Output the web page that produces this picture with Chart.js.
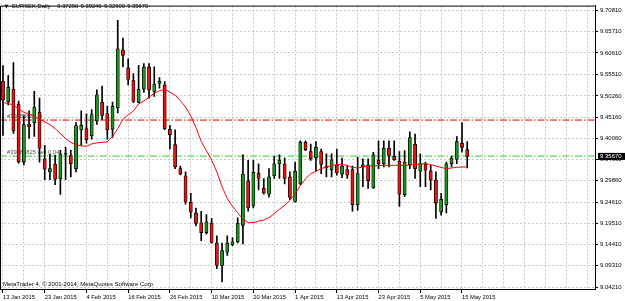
<!DOCTYPE html>
<html>
<head>
<meta charset="utf-8">
<script src="https://cdn.jsdelivr.net/npm/chart.js@4.4.0/dist/chart.umd.min.js"></script>
<style>
  html, body { margin: 0; padding: 0; background: #fff; }
  canvas { display: block; }
</style>
</head>
<body>
<canvas id="eurSekChart" width="625" height="301"></canvas>
<script>
// EURSEK daily, 13 Jan 2015 .. 18 May 2015 (one entry per trading day)
const opens = [
  9.5375, 9.4877, 9.5185, 9.4829, 9.3431, 9.4339, 9.4379, 9.4633, 9.3509, 9.3194,
  9.3384, 9.3028, 9.3620, 9.3590, 9.3272, 9.4206, 9.4237, 9.4064, 9.4419, 9.4870,
  9.4600, 9.4220, 9.4735, 9.6133, 9.5699, 9.5391, 9.4870, 9.5185, 9.5723, 9.5130,
  9.5327, 9.5287, 9.4220, 9.3850, 9.3272, 9.3099, 9.2459, 9.2206, 9.1969, 9.1732,
  9.1962, 9.1481, 9.0942, 9.1258, 9.1433, 9.1511, 9.1907, 9.2981, 9.2388, 9.3163,
  9.2798, 9.2656, 9.3099, 9.3391, 9.3391, 9.3075, 9.2483, 9.2902, 9.3905, 9.3685,
  9.3533, 9.3685, 9.3336, 9.3249, 9.3353, 9.3140, 9.3249, 9.3249, 9.2404, 9.3312,
  9.3367, 9.2815, 9.3471, 9.3391, 9.3763, 9.3566, 9.3448, 9.2642, 9.3367, 9.3857,
  9.3211, 9.3376, 9.3218, 9.2997, 9.2229, 9.2404, 9.3391, 9.3495, 9.3881, 9.37290
];
const highs = [
  9.5754, 9.5517, 9.5825, 9.4900, 9.4545, 9.4663, 9.5137, 9.4972, 9.3834, 9.3620,
  9.3597, 9.3715, 9.3786, 9.3715, 9.4379, 9.4663, 9.4592, 9.4694, 9.5168, 9.5263,
  9.4782, 9.4877, 9.6844, 9.6417, 9.5920, 9.5564, 9.5761, 9.5801, 9.5801, 9.5723,
  9.5469, 9.5367, 9.4315, 9.4206, 9.3336, 9.3194, 9.2680, 9.2324, 9.2246, 9.2168,
  9.2073, 9.1654, 9.1481, 9.1654, 9.1613, 9.2087, 9.3604, 9.3471, 9.3471, 9.3391,
  9.3035, 9.3272, 9.3573, 9.3604, 9.3526, 9.3194, 9.3431, 9.3945, 9.3945, 9.3865,
  9.3922, 9.3746, 9.3628, 9.3628, 9.3746, 9.3526, 9.3353, 9.3336, 9.3549, 9.3509,
  9.3509, 9.3668, 9.3945, 9.3945, 9.3945, 9.3945, 9.3685, 9.3708, 9.4159, 9.4102,
  9.3628, 9.3431, 9.3353, 9.3194, 9.2680, 9.3431, 9.3573, 9.4047, 9.4379, 9.39246
];
const lows = [
  9.4071, 9.4806, 9.4118, 9.3407, 9.3360, 9.4000, 9.4047, 9.3431, 9.3004, 9.3004,
  9.2886, 9.2649, 9.3004, 9.3075, 9.3194, 9.3834, 9.3888, 9.3983, 9.4339, 9.4457,
  9.3983, 9.4023, 9.4616, 9.5723, 9.5287, 9.4870, 9.4853, 9.5107, 9.4972, 9.5012,
  9.5209, 9.4213, 9.3746, 9.3272, 9.3123, 9.2419, 9.2087, 9.1891, 9.1535, 9.1694,
  9.1480, 9.0864, 9.0546, 9.1180, 9.1416, 9.1481, 9.1457, 9.2246, 9.2324, 9.2760,
  9.2656, 9.2585, 9.3035, 9.3035, 9.2902, 9.2523, 9.2466, 9.2886, 9.3708, 9.3471,
  9.3211, 9.3154, 9.3075, 9.3075, 9.3116, 9.3052, 9.3035, 9.2246, 9.2270, 9.2838,
  9.2798, 9.2798, 9.3272, 9.3312, 9.3312, 9.3471, 9.2364, 9.2601, 9.3272, 9.3035,
  9.2838, 9.2838, 9.2760, 9.2073, 9.2151, 9.2206, 9.3312, 9.3391, 9.3668, 9.32900
];
const closes = [
  9.4924, 9.5232, 9.4189, 9.3431, 9.4332, 9.4284, 9.4758, 9.3763, 9.3258, 9.3272,
  9.3016, 9.3628, 9.3640, 9.3391, 9.4308, 9.4315, 9.3969, 9.4576, 9.5050, 9.4552,
  9.4206, 9.4775, 9.6157, 9.5998, 9.5422, 9.4893, 9.5185, 9.5723, 9.5168, 9.5310,
  9.5375, 9.4237, 9.4087, 9.3312, 9.3140, 9.2466, 9.2222, 9.1955, 9.1732, 9.1993,
  9.1495, 9.0942, 9.1298, 9.1481, 9.1511, 9.1955, 9.3140, 9.2324, 9.3187, 9.3035,
  9.2680, 9.3075, 9.3391, 9.3471, 9.3035, 9.2578, 9.3211, 9.3905, 9.3732, 9.3509,
  9.3786, 9.3376, 9.3296, 9.3486, 9.3170, 9.3336, 9.3116, 9.2404, 9.3154, 9.3367,
  9.2981, 9.3604, 9.3391, 9.3763, 9.3590, 9.3486, 9.2656, 9.3431, 9.4023, 9.3272,
  9.3391, 9.3234, 9.2997, 9.2443, 9.2537, 9.3391, 9.3526, 9.3922, 9.3786, 9.35670
];
// moving average
const ma = [
  9.4865, 9.4841, 9.4806, 9.4711, 9.4628, 9.4592, 9.4521, 9.4462, 9.4403, 9.4332,
  9.4237, 9.4118, 9.4000, 9.3905, 9.3846, 9.3822, 9.3810, 9.3869, 9.3893, 9.3905,
  9.3917, 9.4047, 9.4237, 9.4457, 9.4569, 9.4663, 9.4829, 9.4900, 9.4995, 9.5090,
  9.5149, 9.5185, 9.5114, 9.5043, 9.4912, 9.4758, 9.4545, 9.4261, 9.3929, 9.3704,
  9.3478, 9.3194, 9.2838, 9.2554, 9.2364, 9.2210, 9.2056, 9.1973, 9.1973, 9.2009,
  9.2032, 9.2092, 9.2187, 9.2293, 9.2388, 9.2507, 9.2661, 9.2862, 9.3028, 9.3147,
  9.3211, 9.3272, 9.3312, 9.3348, 9.3367, 9.3372, 9.3348, 9.3301, 9.3289, 9.3312,
  9.3336, 9.3336, 9.3348, 9.3353, 9.3353, 9.3353, 9.3353, 9.3348, 9.3360, 9.3372,
  9.3384, 9.3391, 9.3372, 9.3336, 9.3301, 9.3272, 9.3289, 9.3305, 9.3312, 9.3312
];

// axis labels
const dateLabels = ['13 Jan 2015', '23 Jan 2015', '4 Feb 2015', '16 Feb 2015', '26 Feb 2015', '10 Mar 2015',
  '20 Mar 2015', '1 Apr 2015', '13 Apr 2015', '23 Apr 2015', '5 May 2015', '15 May 2015'];
const priceTicks = [9.04210, 9.09310, 9.14410, 9.19510, 9.24610, 9.29860, 9.34960,
  9.40060, 9.45160, 9.50260, 9.55510, 9.60610, 9.65710, 9.70810];

// order levels and quote
const stopLoss = 9.4443;
const sellOpen = 9.3575;
const bid = 9.35670;
const symbolTitle = 'EURSEK,Daily';

const xMin = -0.575, xMax = 113.5;
const yMin = 9.0373, yMax = 9.7200;
const labelEvery = 8, gridEvery = 4;

const fontFam = '"Liberation Sans", Arial, sans-serif';
Chart.defaults.font.family = fontFam;
Chart.defaults.font.size = 6;
Chart.defaults.color = '#000';

const bodyColors = opens.map((o, i) => closes[i] >= o ? '#1a961a' : '#ee1111');

const mt4Overlay = {
  id: 'mt4Overlay',
  beforeDatasetsDraw(chart) {
    const { ctx, scales: { y } } = chart;
    ctx.save();
    ctx.font = '5.8px ' + fontFam;
    ctx.fillStyle = '#505050';
    ctx.textBaseline = 'middle';
    ctx.fillText('#39688825 sl', 7, y.getPixelForValue(stopLoss) - 4);
    ctx.fillText('#39688825 sell 0.04', 7, y.getPixelForValue(sellOpen) - 4);
    ctx.restore();
  },
  afterDraw(chart) {
    const { ctx, chartArea: a, scales: { y } } = chart;
    ctx.save();
    // top and left frame
    ctx.strokeStyle = '#000';
    ctx.lineWidth = 1;
    ctx.beginPath();
    ctx.moveTo(a.left + 0.5, a.bottom);
    ctx.lineTo(a.left + 0.5, a.top + 0.5);
    ctx.lineTo(a.right, a.top + 0.5);
    ctx.stroke();

    // title line
    ctx.fillStyle = '#000';
    ctx.textBaseline = 'middle';
    ctx.font = '5px "DejaVu Sans", sans-serif';
    ctx.fillText('\u25BC', 4.5, 6.5);
    ctx.font = '5.8px ' + fontFam;
    ctx.fillText(symbolTitle, 12, 6.5);
    const quote = [opens[opens.length - 1], highs[highs.length - 1], lows[lows.length - 1], closes[closes.length - 1]];
    quote.forEach((v, k) => ctx.fillText(v.toFixed(5), 57.3 + k * 23.3, 6.5));

    // copyright
    ctx.font = '6px ' + fontFam;
    ctx.fillText('MetaTrader 4, \u00A9 2001-2014, MetaQuotes Software Corp.', 3, 284);

    // bid label on the price axis
    const py = y.getPixelForValue(bid);
    ctx.fillStyle = '#000';
    ctx.fillRect(a.right + 3, py - 3.5, 28, 7);
    ctx.fillStyle = '#fff';
    ctx.fillText(bid.toFixed(5), a.right + 5, py);
    ctx.restore();
  }
};

new Chart(document.getElementById('eurSekChart'), {
  type: 'bar',
  data: {
    datasets: [
      {
        type: 'line',
        label: 'MA',
        data: ma.map((v, i) => ({ x: i, y: v })),
        borderColor: '#ff0000',
        borderWidth: 1,
        pointRadius: 0,
        order: 0
      },
      {
        label: 'Body',
        data: opens.map((o, i) => ({ x: i, y: [o, closes[i]] })),
        backgroundColor: bodyColors,
        borderColor: '#000',
        borderWidth: 0.8,
        borderSkipped: false,
        barThickness: 3.2,
        minBarLength: 1,
        grouped: false,
        order: 1
      },
      {
        label: 'Wick',
        data: lows.map((l, i) => ({ x: i, y: [l, highs[i]] })),
        backgroundColor: '#000',
        barThickness: 1,
        grouped: false,
        order: 2
      },
      {
        type: 'line',
        label: 'SL',
        data: [{ x: xMin, y: stopLoss }, { x: xMax, y: stopLoss }],
        borderColor: '#dd0000',
        borderWidth: 1,
        borderDash: [7, 2, 1.5, 2],
        pointRadius: 0,
        order: 3
      },
      {
        type: 'line',
        label: 'Sell',
        data: [{ x: xMin, y: sellOpen }, { x: xMax, y: sellOpen }],
        borderColor: '#33cc33',
        borderWidth: 1,
        borderDash: [7, 2, 1.5, 2],
        pointRadius: 0,
        order: 3
      }
    ]
  },
  options: {
    responsive: false,
    animation: false,
    devicePixelRatio: 1,
    layout: { padding: { left: 0, top: 1, right: 0, bottom: 0 } },
    plugins: { legend: { display: false }, tooltip: { enabled: false } },
    scales: {
      x: {
        type: 'linear',
        min: xMin,
        max: xMax,
        offset: false,
        afterBuildTicks(s) {
          const t = [];
          for (let v = 0; v <= xMax; v += gridEvery) t.push({ value: v });
          s.ticks = t;
        },
        afterFit(s) { s.height = 12; s.paddingLeft = 0; s.paddingRight = 0; },
        ticks: {
          autoSkip: false,
          maxRotation: 0,
          align: 'start',
          padding: 1,
          font: { size: 5.8 },
          callback: (v) => (v % labelEvery === 0 && dateLabels[v / labelEvery]) || ''
        },
        grid: {
          offset: false,
          color: '#c8c8c8',
          tickLength: 4,
          tickColor: (c) => (c.tick && c.tick.value % labelEvery === 0 && dateLabels[c.tick.value / labelEvery]) ? '#000' : 'rgba(0,0,0,0)'
        },
        border: { color: '#000', dash: [2, 2] }
      },
      y: {
        position: 'right',
        min: yMin,
        max: yMax,
        afterBuildTicks(s) { s.ticks = priceTicks.map(v => ({ value: v })); },
        afterFit(s) { s.width = 30; },
        ticks: {
          padding: 2,
          font: { size: 6 },
          callback: (v) => v.toFixed(5)
        },
        grid: { color: '#c8c8c8', tickLength: 3, tickColor: '#000' },
        border: { color: '#000', dash: [2, 2] }
      }
    }
  },
  plugins: [mt4Overlay]
});
</script>
</body>
</html>
